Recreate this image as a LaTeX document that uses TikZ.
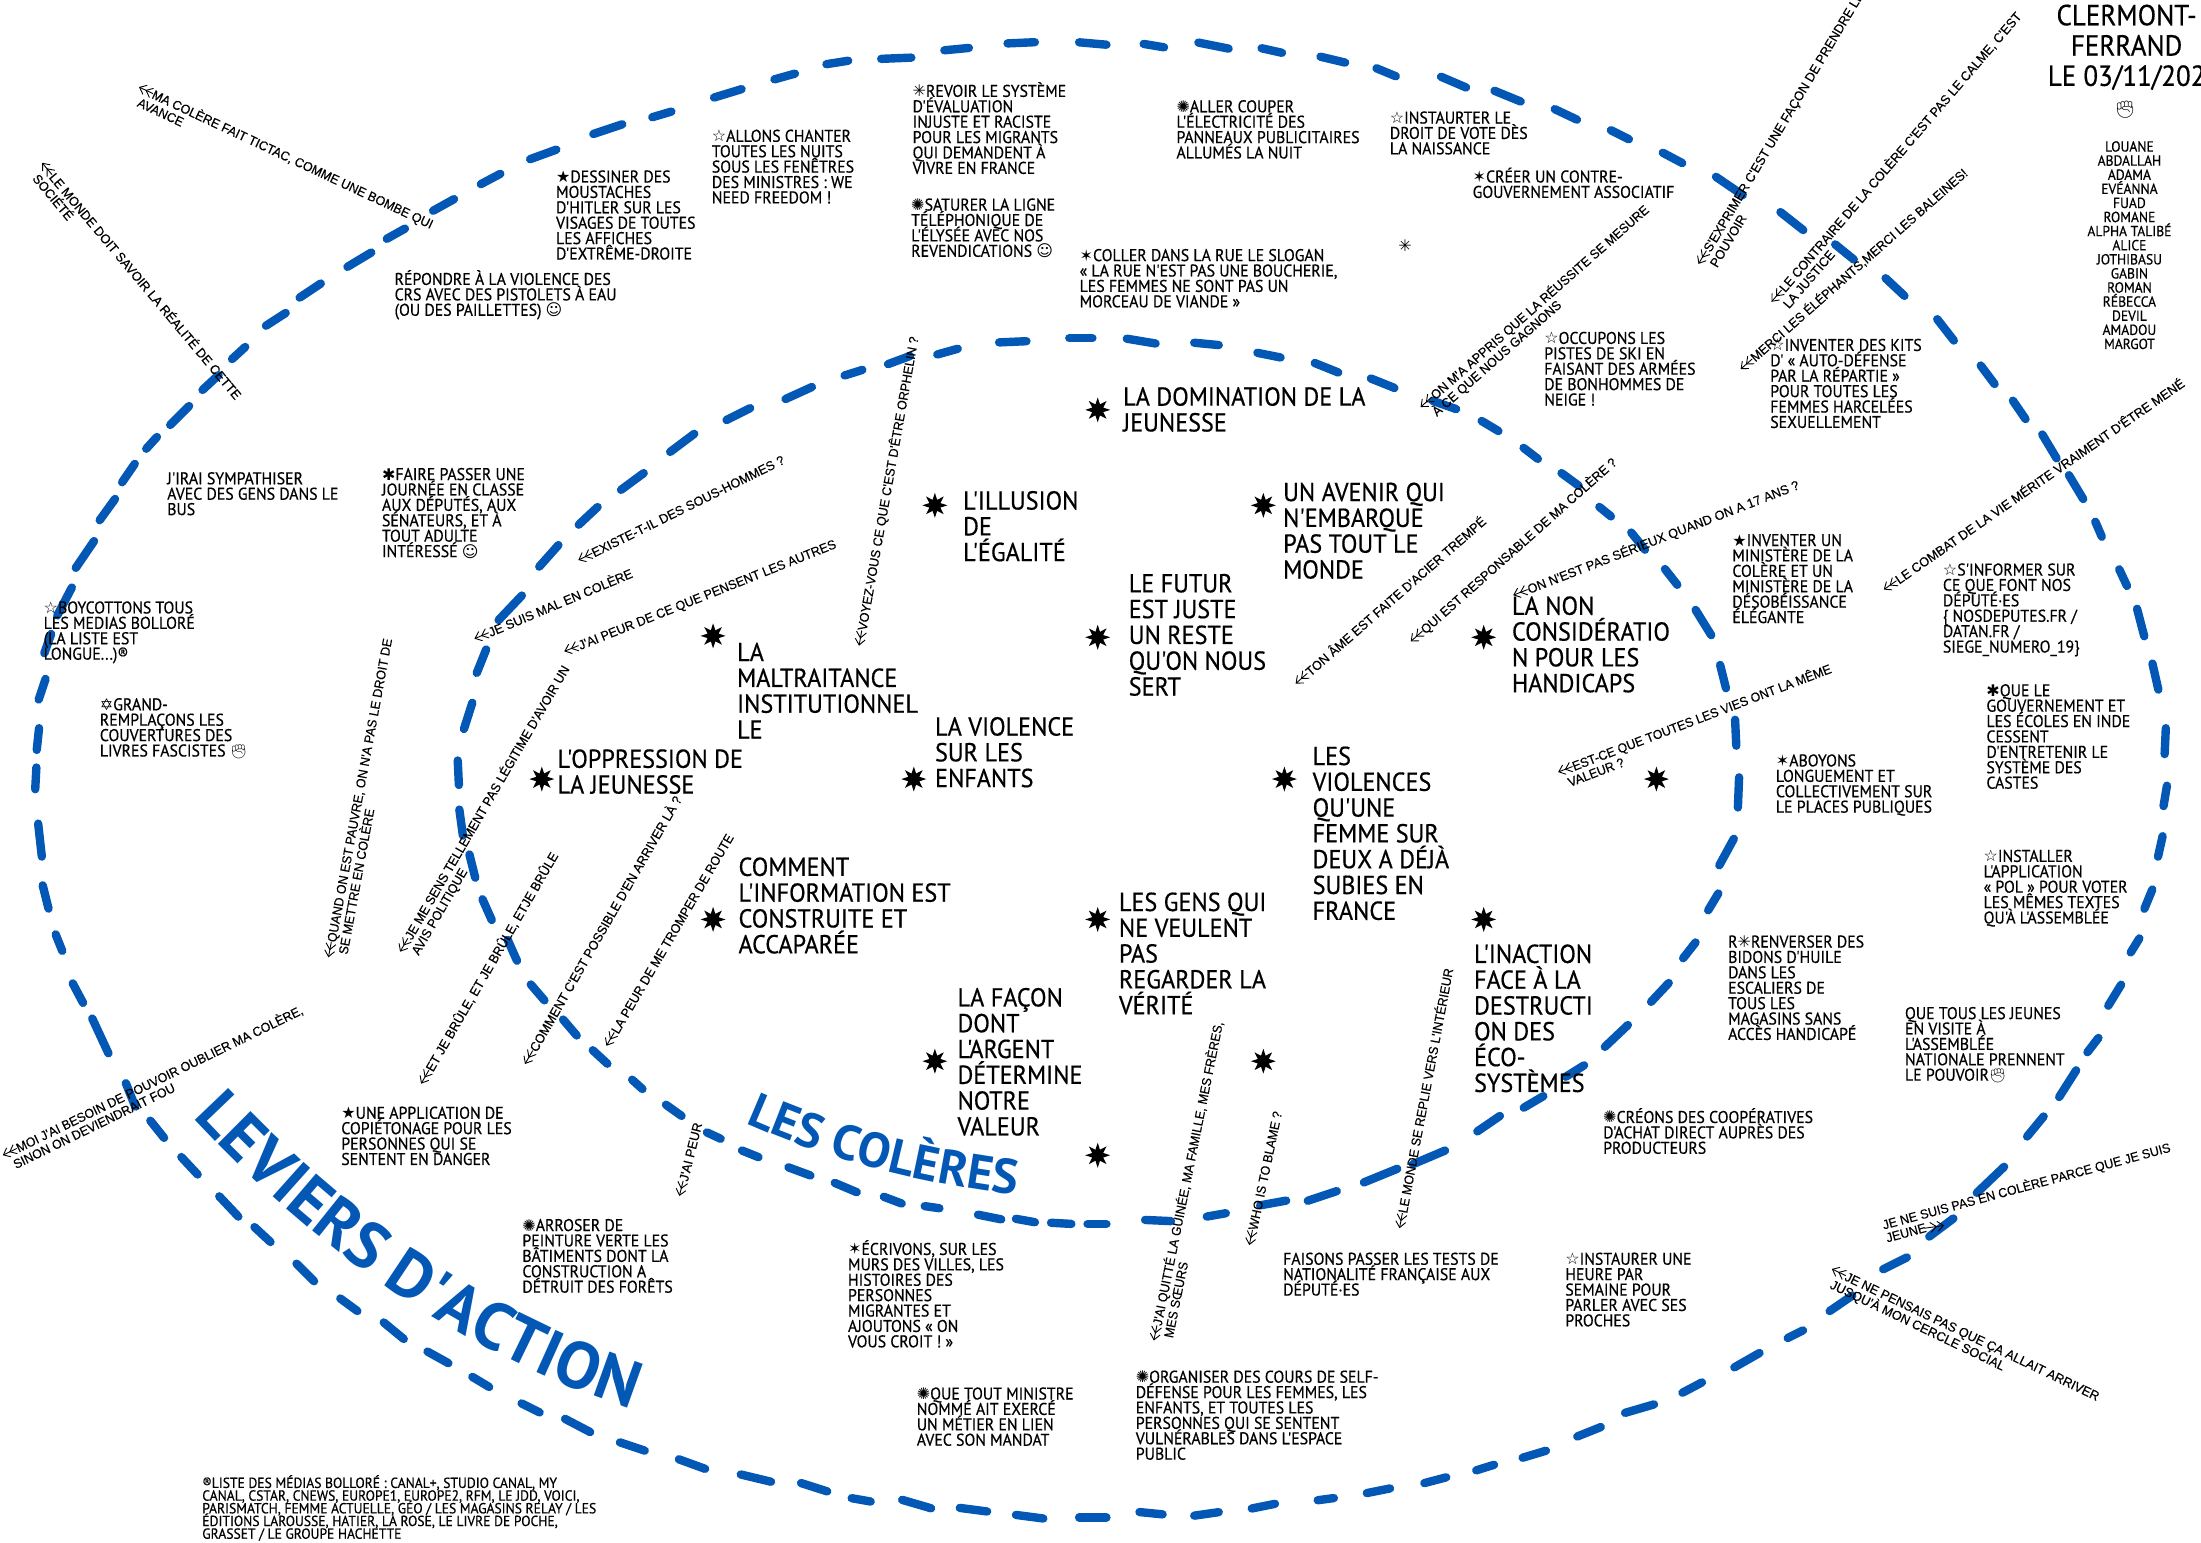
\documentclass[tikz,border=0pt]{standalone}
\usepackage{fontspec}
\usepackage{graphicx}
\usetikzlibrary{arrows.meta,shapes.geometric,decorations.text}
\setmainfont{PT Sans}
\newfontfamily\handf[FakeStretch=0.93,FakeBold=0.5]{PT Sans}
\newfontfamily\bluef{PT Sans}
\newfontfamily\rotf[FakeBold=0.3]{Liberation Sans}
\newfontfamily\symf{DejaVu Sans}
\newfontfamily\emof{Noto Emoji}
\definecolor{leverblue}{HTML}{0358B6}
\newcommand\Sy[1]{{\symf\fontsize{16}{16}\selectfont #1}}
\newcommand\Em[1]{{\emof\fontsize{14}{14}\selectfont #1}}
\newcommand\Ln[1]{\hbox{#1}}
\newcommand\Cn[1]{\hbox to 240pt{\hfil #1\hfil}}
\newcommand\Bk[2]{\vtop{\lineskiplimit=-100pt\baselineskip=#1pt\relax #2}}
\newcommand\Sm[1]{\Bk{15.4}{#1}}
\newcommand\Bg[1]{\Bk{25.8}{#1}}
\newlength\rotw
\newcommand\rotfs{\rotf\fontsize{13}{13}\selectfont}
% name, x1,y1 (tip), x2,y2 (end of first line), first line, second line
\newcommand\rotl[7]{%
  \pgfinterruptpicture\settowidth\rotw{\rotfs #6}\global\rotw=\rotw\endpgfinterruptpicture
  \pgfmathsetmacro\rang{atan2((#3)-(#5),(#4)-(#2))}%
  \pgfmathsetmacro\rlen{(veclen((#4)-(#2),(#5)-(#3))-11)*1.4037}%
  \pgfmathsetmacro\rsx{\rlen/\rotw}%
  \begin{scope}[shift={(#2,#3)},rotate=\rang]
    \coordinate (#1t) at (0,0);
    \coordinate (#1a) at (11,0);
    \draw[rotarrow] (#1a) -- (#1t);
    \node[rotlabel,rotate=\rang] (#1) at (11,3.4) {\scalebox{\rsx}[1]{\rotfs #6}};
    \node[rotlabel,rotate=\rang] (#1b) at (4,13) {\scalebox{\rsx}[1]{\rotfs #7}};
  \end{scope}}
\tikzset{
  dashseg/.style={draw=leverblue,line width=8.4pt,line cap=round,shorten >=2.5pt,shorten <=2.5pt},
  smalltxt/.style={anchor=base west,inner sep=0pt,font=\handf\fontsize{17}{17}\selectfont},
  footnotetxt/.style={anchor=base west,inner sep=0pt,font=\handf\fontsize{14.6}{14.6}\selectfont},
  bigtxt/.style={anchor=base west,inner sep=0pt,font=\handf\fontsize{26}{26}\selectfont},
  namestxt/.style={anchor=base,inner sep=0pt,font=\handf\fontsize{14.6}{14.6}\selectfont},
  titletxt/.style={anchor=base,inner sep=0pt,font=\handf\fontsize{29}{29}\selectfont},
  bigstar/.style={star,star points=8,star point ratio=2.1,minimum size=25pt,inner sep=0pt,fill=black},
  rotlabel/.style={anchor=base west,inner sep=0pt},
  rotarrow/.style={line width=.9pt,-{Straight Barb[length=6pt,width=10pt]Straight Barb[length=6pt,width=10pt]}},
}
\begin{document}
\begin{tikzpicture}[x=1.4037pt,y=-1.4037pt]
\useasboundingbox (0,0) rectangle (1568,1099.2);
\fill[white] (0,0) rectangle (1568,1099.2);
\clip (0,0) rectangle (1568,1099.2);
% outer ring
\foreach \a/\b/\c/\d in {
790/32/767/30,716/31/739/30,671/36/692/34,626/42/651/41,587/46/606/43,550/57/568/52,507/70/530/63,463/84/480/79,421/96/445/88,376/114/398/106,341/132/358/123,307/151/325/141,274/171/290/162,246/191/266/179,212/213/230/201,188/233/205/222,164/257/176/246,143/279/157/266,120/304/136/288,103/321/113/310,86/345/97/329,70/372/83/354,53/406/68/384,40/440/52/417,31/467/37/450,27/500/33/482,26/536/28/517,26/545/25/564,27/585/30/612,30/629/35/649,39/664/45/679,51/699/60/716,65/724/78/752,89/770/97/790,106/797/118/812,128/823/142/838,155/851/171/868,180/873/194/886,210/899/225/914,241/924/256/935,272/941/289/955,303/962/321/972,335/980/350/989,370/999/386/1007,401/1010/422/1021,440/1027/461/1034,482/1039/504/1047,526/1050/551/1056,569/1056/591/1063,605/1067/622/1070,641/1068/665/1075,682/1074/705/1077,722/1079/745/1082,767/1081/790/1081,810/1077/830/1079,849/1080/870/1077,890/1075/910/1071,937/1069/952/1067,972/1064/992/1060,1013/1057/1032/1052,1050/1048/1066/1043,1083/1039/1103/1033,1122/1024/1142/1016,1156/1007/1180/1000,1197/993/1214/984,1234/975/1255/963,1272/954/1286/947,1302/935/1321/922,1340/905/1360/895,1373/882/1393/867,1407/851/1429/830,1443/811/1457/794,1466/783/1480/761,1486/751/1496/738,1501/718/1512/700,1517/680/1525/667,1527/649/1534/632,1537/612/1541/594,1541/576/1544/558,1542/539/1543/517,1538/493/1533/471,1528/455/1522/432,1516/419/1509/404,1498/384/1492/370,1485/357/1473/337,1466/328/1454/308,1444/300/1433/284,1422/275/1410/259,1393/244/1379/226,1358/212/1342/197,1322/186/1306/173,1286/165/1267/150,1243/140/1221/125,1200/117/1183/108,1162/100/1146/92,1125/86/1106/77,1085/73/1063/64,1046/63/1025/54,996/55/979/48,960/45/939/40,915/38/897/34,877/35/852/30,831/34/813/31}
  {\draw[dashseg] (\a,\b) -- (\c,\d);}
% inner ring
\foreach \a/\b/\c/\d in {
760/241/780/241,710/244/733/243,666/253/684/248,631/260/650/253,600/268/616/263,558/285/580/275,516/300/536/290,476/323/496/308,441/350/460/336,411/375/427/360,383/405/399/387,354/443/373/423,339/481/347/461,330/521/337/499,326/540/327/561,327/575/330/597,334/607/339/627,343/639/351/657,361/668/369/686,377/700/389/714,400/725/412/739,421/747/434/759,449/768/459/777,473/786/487/796,502/806/515/812,527/819/542/825,560/831/579/838,593/842/612/850,628/852/644/858,657/859/671/861,695/865/715/869,722/868/739/871,747/871/765/872,773/872/790/872,814/869/836/870,858/867/875/864,896/859/918/855,930/856/954/848,970/843/997/832,1005/830/1031/819,1051/807/1070/794,1084/790/1101/780,1114/768/1130/758,1142/747/1161/729,1175/715/1190/699,1198/684/1209/670,1216/650/1225/635,1224/618/1236/596,1238/577/1239/552,1237/533/1236/511,1230/492/1225/472,1220/454/1207/433,1196/418/1185/404,1173/393/1161/378,1149/369/1138/360,1126/347/1111/336,1097/328/1084/318,1069/308/1054/299,1039/292/1019/285,995/277/975/269,955/266/935/258,914/255/894/251,870/246/849/244,825/245/801/241}
  {\draw[dashseg] (\a,\b) -- (\c,\d);}
% curved titles
\path[decorate,decoration={text along path,text align=fit to path,text={|\bluef\bfseries\fontsize{66}{66}\selectfont\color{leverblue}|LEVIERS D'ACTION}}]
  (137,796) .. controls (220,885) and (320,960) .. (447,1003);
\path[decorate,decoration={text along path,text align=fit to path,text={|\bluef\bfseries\fontsize{49}{49}\selectfont\color{leverblue}|LES COLÈRES}}]
  (531,800) .. controls (590,826) and (650,842) .. (720,851);
% big stars
\foreach \n/\x/\y in {a/782/292,b/666/360,c/900/360,d/782/454,e/508/453,f/1057/454,g/386/555,h/651/555,i/915/555,j/1180/555,k/508/655,l/782/655,m/1057/655,n/666/756,o/900/756,p/782/823}
  {\node[bigstar] (star\n) at (\x,\y) {};}
% big labels
\node[bigtxt] (d1) at (800,289) {\Bg{\Ln{LA DOMINATION DE LA}\Ln{JEUNESSE}}};
\node[bigtxt] (d2) at (686,363) {\Bg{\Ln{L'ILLUSION}\Ln{DE}\Ln{L'ÉGALITÉ}}};
\node[bigtxt] (d3) at (914,357) {\Bg{\Ln{UN AVENIR QUI}\Ln{N'EMBARQUE}\Ln{PAS TOUT LE}\Ln{MONDE}}};
\node[bigtxt] (d4) at (804,422) {\Bg{\Ln{LE FUTUR}\Ln{EST JUSTE}\Ln{UN RESTE}\Ln{QU'ON NOUS}\Ln{SERT}}};
\node[bigtxt] (d5) at (525,471) {\Bg{\Ln{LA}\Ln{MALTRAITANCE}\Ln{INSTITUTIONNEL}\Ln{LE}}};
\node[bigtxt] (d6) at (1077,438) {\Bg{\Ln{LA NON}\Ln{CONSIDÉRATIO}\Ln{N POUR LES}\Ln{HANDICAPS}}};
\node[bigtxt] (d7) at (397,547) {\Bg{\Ln{L'OPPRESSION DE}\Ln{LA JEUNESSE}}};
\node[bigtxt] (d8) at (666,524) {\Bg{\Ln{LA VIOLENCE}\Ln{SUR LES}\Ln{ENFANTS}}};
\node[bigtxt] (d9) at (935,545) {\Bg{\Ln{LES}\Ln{VIOLENCES}\Ln{QU'UNE}\Ln{FEMME SUR}\Ln{DEUX A DÉJÀ}\Ln{SUBIES EN}\Ln{FRANCE}}};
\node[bigtxt] (d10) at (526,624) {\Bg{\Ln{COMMENT}\Ln{L'INFORMATION EST}\Ln{CONSTRUITE ET}\Ln{ACCAPARÉE}}};
\node[bigtxt] (d11) at (797,649) {\Bg{\Ln{LES GENS QUI}\Ln{NE VEULENT}\Ln{PAS}\Ln{REGARDER LA}\Ln{VÉRITÉ}}};
\node[bigtxt] (d12) at (1050,686) {\Bg{\Ln{L'INACTION}\Ln{FACE À LA}\Ln{DESTRUCTI}\Ln{ON DES}\Ln{ÉCO-}\Ln{SYSTÈMES}}};
\node[bigtxt] (d13) at (682,717) {\Bg{\Ln{LA FAÇON}\Ln{DONT}\Ln{L'ARGENT}\Ln{DÉTERMINE}\Ln{NOTRE}\Ln{VALEUR}}};
% small blocks
\node[smalltxt] (a1) at (650,69) {\Sm{\Ln{\Sy{✳}REVOIR LE SYSTÈME}\Ln{D'ÉVALUATION}\Ln{INJUSTE ET RACISTE}\Ln{POUR LES MIGRANTS}\Ln{QUI DEMANDENT À}\Ln{VIVRE EN FRANCE}}};
\node[smalltxt] (a2) at (649,150) {\Sm{\Ln{\Sy{✺}SATURER LA LIGNE}\Ln{TÉLÉPHONIQUE DE}\Ln{L'ÉLYSÉE AVEC NOS}\Ln{REVENDICATIONS \Sy{☺}}}};
\node[smalltxt] (a3) at (507,101) {\Sm{\Ln{\Sy{☆}ALLONS CHANTER}\Ln{TOUTES LES NUITS}\Ln{SOUS LES FENÊTRES}\Ln{DES MINISTRES : WE}\Ln{NEED FREEDOM !}}};
\node[smalltxt] (a4) at (396,130) {\Sm{\Ln{\Sy{★}DESSINER DES}\Ln{MOUSTACHES}\Ln{D'HITLER SUR LES}\Ln{VISAGES DE TOUTES}\Ln{LES AFFICHES}\Ln{D'EXTRÊME-DROITE}}};
\node[smalltxt] (a5) at (281,203) {\Sm{\Ln{RÉPONDRE À LA VIOLENCE DES}\Ln{CRS AVEC DES PISTOLETS À EAU}\Ln{(OU DES PAILLETTES) \Sy{☺}}}};
\node[smalltxt] (a6) at (838,80) {\Sm{\Ln{\Sy{✺}ALLER COUPER}\Ln{L'ÉLECTRICITÉ DES}\Ln{PANNEAUX PUBLICITAIRES}\Ln{ALLUMÉS LA NUIT}}};
\node[smalltxt] (a7) at (990,88) {\Sm{\Ln{\Sy{☆}INSTAURTER LE}\Ln{DROIT DE VOTE DÈS}\Ln{LA NAISSANCE}}};
\node[smalltxt] (a8) at (1049,130) {\Sm{\Ln{\Sy{✶}CRÉER UN CONTRE-}\Ln{GOUVERNEMENT ASSOCIATIF}}};
\node[smalltxt] (a9) at (769,186) {\Sm{\Ln{\Sy{✶}COLLER DANS LA RUE LE SLOGAN}\Ln{« LA RUE N'EST PAS UNE BOUCHERIE,}\Ln{LES FEMMES NE SONT PAS UN}\Ln{MORCEAU DE VIANDE »}}};
\node[inner sep=0pt] (a10) at (1001,175) {\Sy{✳}};
\node[smalltxt] (a11) at (119,345) {\Sm{\Ln{J'IRAI SYMPATHISER}\Ln{AVEC DES GENS DANS LE}\Ln{BUS}}};
\node[smalltxt] (a12) at (272,342) {\Sm{\Ln{\Sy{✱}FAIRE PASSER UNE}\Ln{JOURNÉE EN CLASSE}\Ln{AUX DÉPUTÉS, AUX}\Ln{SÉNATEURS, ET À}\Ln{TOUT ADULTE}\Ln{INTÉRESSÉ \Sy{☺}}}};
\node[smalltxt] (a13) at (31,437) {\Sm{\Ln{\Sy{☆}BOYCOTTONS TOUS}\Ln{LES MEDIAS BOLLORÉ}\Ln{(LA LISTE EST}\Ln{LONGUE...)®}}};
\node[smalltxt] (a14) at (71,506) {\Sm{\Ln{\Sy{✡}GRAND-}\Ln{REMPLAÇONS LES}\Ln{COUVERTURES DES}\Ln{LIVRES FASCISTES \Em{✊}}}};
\node[smalltxt] (a15) at (1100,245) {\Sm{\Ln{\Sy{☆}OCCUPONS LES}\Ln{PISTES DE SKI EN}\Ln{FAISANT DES ARMÉES}\Ln{DE BONHOMMES DE}\Ln{NEIGE !}}};
\node[smalltxt] (a16) at (1261,250) {\Sm{\Ln{\Sy{☆}INVENTER DES KITS}\Ln{D' « AUTO-DÉFENSE}\Ln{PAR LA RÉPARTIE »}\Ln{POUR TOUTES LES}\Ln{FEMMES HARCELÉES}\Ln{SEXUELLEMENT}}};
\node[smalltxt] (a17) at (1234,389) {\Sm{\Ln{\Sy{★}INVENTER UN}\Ln{MINISTÈRE DE LA}\Ln{COLÈRE ET UN}\Ln{MINISTÈRE DE LA}\Ln{DÉSOBÉISSANCE}\Ln{ÉLÉGANTE}}};
\node[smalltxt] (a18) at (1384,410) {\Sm{\Ln{\Sy{☆}S'INFORMER SUR}\Ln{CE QUE FONT NOS}\Ln{DÉPUTÉ·ES}\Ln{\{ NOSDEPUTES.FR /}\Ln{DATAN.FR /}\Ln{SIEGE\_NUMERO\_19\}}}};
\node[smalltxt] (a19) at (1415,496) {\Sm{\Ln{\Sy{✱}QUE LE}\Ln{GOUVERNEMENT ET}\Ln{LES ÉCOLES EN INDE}\Ln{CESSENT}\Ln{D'ENTRETENIR LE}\Ln{SYSTÈME DES}\Ln{CASTES}}};
\node[smalltxt] (a20) at (1265,546) {\Sm{\Ln{\Sy{✶}ABOYONS}\Ln{LONGUEMENT ET}\Ln{COLLECTIVEMENT SUR}\Ln{LE PLACES PUBLIQUES}}};
\node[smalltxt] (a21) at (1413,614) {\Sm{\Ln{\Sy{☆}INSTALLER}\Ln{L'APPLICATION}\Ln{« POL » POUR VOTER}\Ln{LES MÊMES TEXTES}\Ln{QU'À L'ASSEMBLÉE}}};
\node[smalltxt] (a22) at (1231,675) {\Sm{\Ln{R\Sy{✳}RENVERSER DES}\Ln{BIDONS D'HUILE}\Ln{DANS LES}\Ln{ESCALIERS DE}\Ln{TOUS LES}\Ln{MAGASINS SANS}\Ln{ACCÈS HANDICAPÉ}}};
\node[smalltxt] (a23) at (1357,726) {\Sm{\Ln{QUE TOUS LES JEUNES}\Ln{EN VISITE À}\Ln{L'ASSEMBLÉE}\Ln{NATIONALE PRENNENT}\Ln{LE POUVOIR\Em{✊}}}};
\node[smalltxt] (a24) at (1142,800) {\Sm{\Ln{\Sy{✺}CRÉONS DES COOPÉRATIVES}\Ln{D'ACHAT DIRECT AUPRÈS DES}\Ln{PRODUCTEURS}}};
\node[smalltxt] (a25) at (243,797) {\Sm{\Ln{\Sy{★}UNE APPLICATION DE}\Ln{COPIÉTONAGE POUR LES}\Ln{PERSONNES QUI SE}\Ln{SENTENT EN DANGER}}};
\node[smalltxt] (a26) at (372,877) {\Sm{\Ln{\Sy{✺}ARROSER DE}\Ln{PEINTURE VERTE LES}\Ln{BÂTIMENTS DONT LA}\Ln{CONSTRUCTION A}\Ln{DÉTRUIT DES FORÊTS}}};
\node[smalltxt] (a27) at (604,894) {\Sm{\Ln{\Sy{✶}ÉCRIVONS, SUR LES}\Ln{MURS DES VILLES, LES}\Ln{HISTOIRES DES}\Ln{PERSONNES}\Ln{MIGRANTES ET}\Ln{AJOUTONS « ON}\Ln{VOUS CROIT ! »}}};
\node[smalltxt] (a28) at (914,901) {\Sm{\Ln{FAISONS PASSER LES TESTS DE}\Ln{NATIONALITÉ FRANÇAISE AUX}\Ln{DÉPUTÉ·ES}}};
\node[smalltxt] (a29) at (1115,901) {\Sm{\Ln{\Sy{☆}INSTAURER UNE}\Ln{HEURE PAR}\Ln{SEMAINE POUR}\Ln{PARLER AVEC SES}\Ln{PROCHES}}};
\node[smalltxt] (a30) at (653,997) {\Sm{\Ln{\Sy{✺}QUE TOUT MINISTRE}\Ln{NOMMÉ AIT EXERCÉ}\Ln{UN MÉTIER EN LIEN}\Ln{AVEC SON MANDAT}}};
\node[smalltxt] (a31) at (809,985) {\Sm{\Ln{\Sy{✺}ORGANISER DES COURS DE SELF-}\Ln{DÉFENSE POUR LES FEMMES, LES}\Ln{ENFANTS, ET TOUTES LES}\Ln{PERSONNES QUI SE SENTENT}\Ln{VULNÉRABLES DANS L'ESPACE}\Ln{PUBLIC}}};
\node[footnotetxt] (a32) at (144,1060) {\Bk{12.7}{\Ln{®LISTE DES MÉDIAS BOLLORÉ : CANAL+, STUDIO CANAL, MY}\Ln{CANAL, CSTAR, CNEWS, EUROPE1, EUROPE2, RFM, LE JDD, VOICI,}\Ln{PARISMATCH, FEMME ACTUELLE, GÉO / LES MAGASINS RELAY / LES}\Ln{ÉDITIONS LAROUSSE, HATIER, LA ROSE, LE LIVRE DE POCHE,}\Ln{GRASSET / LE GROUPE HACHETTE}}};
% title and names
\node[titletxt] (title) at (1515,18) {\Bk{30.3}{\Cn{CLERMONT-}\Cn{FERRAND}\Cn{LE 03/11/202}}};
\node[inner sep=0pt] (fist) at (1514,78) {\emof\fontsize{17}{17}\selectfont ✊};
\node[namestxt] (names) at (1517,108) {\Bk{14.1}{\Cn{LOUANE}\Cn{ABDALLAH}\Cn{ADAMA}\Cn{EVÉANNA}\Cn{FUAD}\Cn{ROMANE}\Cn{ALPHA TALIBÉ}\Cn{ALICE}\Cn{JOTHIBASU}\Cn{GABIN}\Cn{ROMAN}\Cn{RÉBECCA}\Cn{DEVIL}\Cn{AMADOU}\Cn{MARGOT}}};
% rotated quotes
\rotl{r1}{99}{62}{308}{160}{MA COLÈRE FAIT TICTAC, COMME UNE BOMBE QUI}{AVANCE}
\rotl{r2}{30}{116}{170}{283}{LE MONDE DOIT SAVOIR LA RÉALITÉ DE CETTE}{SOCIÉTÉ}
\rotl{r3}{412}{399}{558}{327}{EXISTE-T-IL DES SOUS-HOMMES ?}{}
\rotl{r4}{338}{455}{450}{408}{JE SUIS MAL EN COLÈRE}{}
\rotl{r5}{402}{464}{595}{387}{J'AI PEUR DE CE QUE PENSENT LES AUTRES}{}
\rotl{r6}{612}{460}{651}{240}{VOYEZ-VOUS CE QUE C'EST D'ÊTRE ORPHELIN ?}{}
\rotl{r7}{234}{682}{276}{455}{QUAND ON EST PAUVRE, ON N'A PAS LE DROIT DE}{SE METTRE EN COLÈRE}
\rotl{r8}{285}{678}{403}{475}{JE ME SENS TELLEMENT PAS LÉGITIME D'AVOIR UN}{AVIS POLITIQUE}
\rotl{r9}{300}{772}{395}{608}{ET JE BRÛLE, ET JE BRÛLE, ETJE BRÛLE}{}
\rotl{r10}{374}{758}{483}{568}{COMMENT C'EST POSSIBLE D'EN ARRIVER LÀ ?}{}
\rotl{r11}{432}{745}{520}{595}{LA PEUR DE ME TROMPER DE ROUTE}{}
\rotl{r12}{484}{852}{497}{800}{J'AI PEUR}{}
\rotl{r13}{2}{823}{215}{719}{MOI J'AI BESOIN DE POUVOIR OUBLIER MA COLÈRE,}{SINON ON DEVIENDRAIT FOU}
\rotl{r14}{822}{955}{868}{728}{J'AI QUITTÉ LA GUINÉE, MA FAMILLE, MES FRÈRES,}{MES SŒURS}
\rotl{r15}{890}{887}{910}{792}{WHO IS TO BLAME ?}{}
\rotl{r16}{997}{875}{1032}{690}{LE MONDE SE REPLIE VERS L'INTÉRIEUR}{}
\rotl{r17}{923}{487}{1057}{370}{TON ÂME EST FAITE D'ACIER TREMPÉ}{}
\rotl{r18}{1005}{457}{1150}{328}{QUI EST RESPONSABLE DE MA COLÈRE ?}{}
\rotl{r19}{1078}{424}{1281}{345}{ON N'EST PAS SÉRIEUX QUAND ON A 17 ANS ?}{}
\rotl{r20}{1110}{550}{1304}{476}{EST-CE QUE TOUTES LES VIES ONT LA MÊME}{VALEUR ?}
\rotl{r21}{1342}{420}{1555}{272}{LE COMBAT DE LA VIE MÉRITE VRAIMENT D'ÊTRE MENÉ}{}
\rotl{r22}{1012}{290}{1173}{148}{ON M'A APPRIS QUE LA RÉUSSITE SE MESURE}{À CE QUE NOUS GAGNONS}
\rotl{r23}{1210}{188}{1325}{-5}{S'EXPRIMER C'EST UNE FAÇON DE PRENDRE LE}{POUVOIR}
\rotl{r24}{1262}{215}{1438}{10}{LE CONTRAIRE DE LA COLÈRE C'EST PAS LE CALME, C'EST}{LA JUSTICE}
\rotl{r25}{1240}{263}{1400}{122}{MERCI LES ÉLÉPHANTS,MERCI LES BALEINES!}{}
\rotl{r27}{1305}{904}{1495}{995}{JE NE PENSAIS PAS QUE ÇA ALLAIT ARRIVER}{JUSQU'À MON CERCLE SOCIAL}
% the one quote whose arrow sits at the end of its second line
\begin{scope}[shift={(1342,876)},rotate=15.2]
  \node[rotlabel,rotate=15.2] (r26) at (0,0) {\scalebox{0.96}[1]{\rotfs JE NE SUIS PAS EN COLÈRE PARCE QUE JE SUIS}};
  \node[rotlabel,rotate=15.2] (r26b) at (0,9.5) {\scalebox{0.96}[1]{\rotfs JEUNE}};
\end{scope}
\coordinate (r26t) at (1385,873);
\coordinate (r26a) at (1371,875);
\draw[rotarrow] (r26a) -- (r26t);
\end{tikzpicture}
\end{document}
